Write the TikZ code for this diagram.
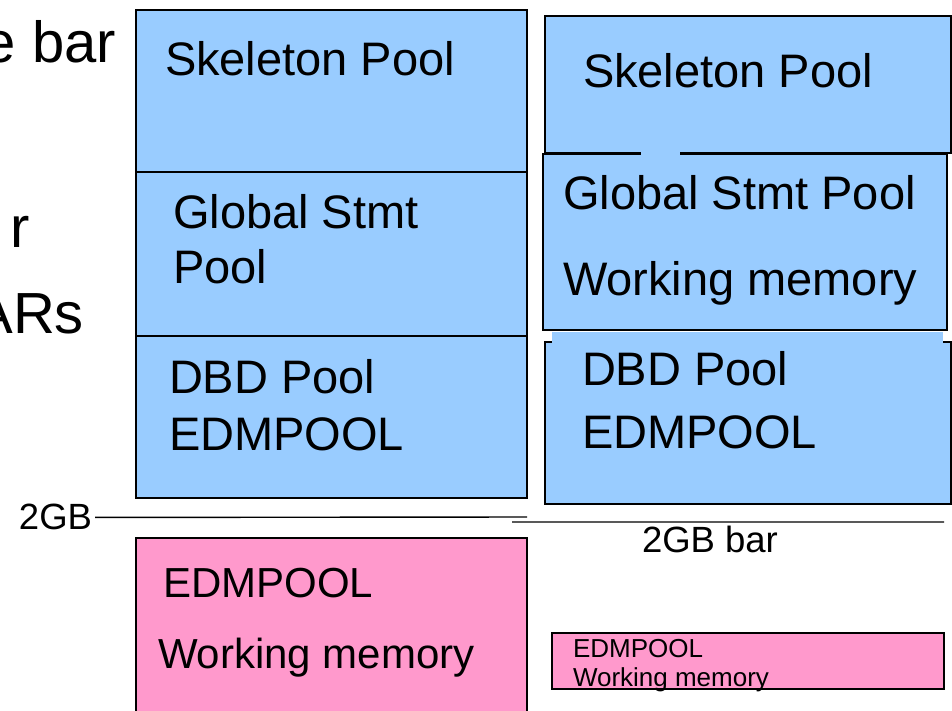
\documentclass[tikz,border=0pt]{standalone}
\usepackage{fontspec}
\setmainfont{Liberation Sans}
\usepackage{tikz}
\definecolor{poolblue}{RGB}{153,204,255}
\definecolor{poolpink}{RGB}{255,153,204}

\begin{document}
\begin{tikzpicture}[x=1pt,y=-1pt,line width=1.6pt,
                    every node/.style={inner sep=0pt,outer sep=0pt}]
  \tikzstyle{box}=[draw=black,rectangle,anchor=north west]
  \tikzstyle{blue box}=[box,fill=poolblue]
  \tikzstyle{pink box}=[box,fill=poolpink]
  \tikzstyle{txt}=[anchor=base west,font=\fontsize{47}{56}\selectfont]
  \tikzstyle{mid txt}=[anchor=base west,font=\fontsize{42}{50}\selectfont]
  \tikzstyle{bar txt}=[font=\fontsize{36.5}{44}\selectfont]
  \tikzstyle{small txt}=[anchor=base west,font=\fontsize{26}{31}\selectfont]
  \tikzstyle{cut txt}=[anchor=base east,font=\fontsize{58}{70}\selectfont]

  \useasboundingbox (0,0) rectangle (952,710);

  % left column
  \node[blue box,minimum width=391pt,minimum height=162pt] (S1) at (136,10)  {};
  \node[blue box,minimum width=391pt,minimum height=164pt] (G1) at (136,172) {};
  \node[blue box,minimum width=391pt,minimum height=162pt] (D1) at (136,336) {};
  \node[pink box,minimum width=391pt,minimum height=190pt] (E1) at (136,538) {};

  \node[txt] (s1)  at (165,75)  {Skeleton Pool};
  \node[txt] (g1)  at (173,228) {Global Stmt};
  \node[txt] (g1b) at (173,283) {Pool};
  \node[txt] (d1)  at (169,393) {DBD Pool};
  \node[txt] (d1b) at (169,450) {EDMPOOL};
  \node[mid txt] (e1)  at (163,597) {EDMPOOL};
  \node[mid txt] (e1b) at (158,668) {Working memory};

  % right column
  \node[blue box,minimum width=406pt,minimum height=137pt] (S2) at (545,16)  {};
  \node[blue box,minimum width=404pt,minimum height=176pt] (G2) at (543,154) {};
  \node[blue box,minimum width=406pt,minimum height=162pt] (D2) at (545,342) {};
  \node[pink box,minimum width=392pt,minimum height=56pt]  (E2) at (552,633) {};
  \fill[poolblue] (641,149) rectangle (680,158.5);
  \fill[poolblue] (552,331.5) rectangle (943,343.5);

  \node[txt] (s2)  at (583,87)  {Skeleton Pool};
  \node[txt] (g2)  at (563,209) {Global Stmt Pool};
  \node[txt] (g2b) at (563,295) {Working memory};
  \node[txt] (d2)  at (582,385) {DBD Pool};
  \node[txt] (d2b) at (582,448) {EDMPOOL};
  \node[small txt] (e2)  at (573,657) {EDMPOOL};
  \node[small txt] (e2b) at (573,686) {Working memory};

  % 2GB bars
  \node[bar txt,anchor=base east] (bar1) at (92,529) {2GB};
  \coordinate (end1) at (527,517);
  \coordinate (beg2) at (512,522);
  \coordinate (end2) at (944,522);
  \node[bar txt,anchor=base west] (bar2) at (642,552) {2GB bar};

  \draw[black,line width=1.4pt]
        ([xshift=3pt,yshift=-1pt]bar1.east) -- (end1)
        (beg2) -- (end2);

  % text cut by the left edge
  \node[cut txt] (c1) at (116,62)  {e bar};
  \node[cut txt] (c2) at (30,247)  {r};
  \node[cut txt] (c3) at (84,333)  {ARs};
\end{tikzpicture}
\end{document}
